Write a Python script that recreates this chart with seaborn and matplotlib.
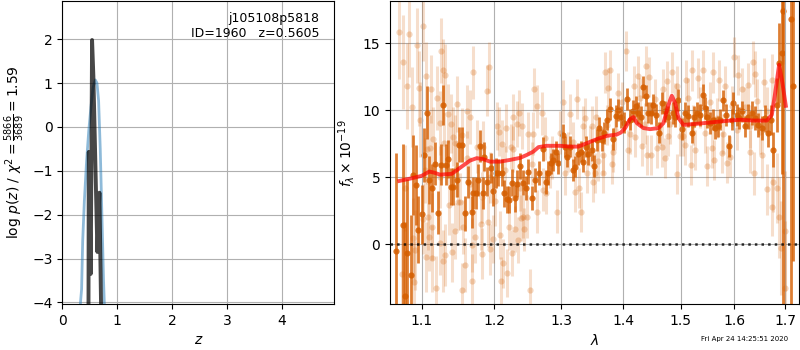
import matplotlib
matplotlib.use('Agg')
import pandas as pd
import seaborn as sns
from matplotlib import pyplot as plt
from matplotlib.ticker import NullLocator, FixedLocator, FixedFormatter

# ---- p(z) panel ----
pz_z = [0.30, 0.33, 0.35, 0.37, 0.40, 0.44, 0.48, 0.52, 0.56, 0.60, 0.63, 0.66, 0.69, 0.72, 0.75, 0.78]
pz_logp = [-4.5, -4.0, -3.7, -2.6, -1.7, -0.8, -0.1, 0.45, 0.9, 1.07, 1.0, 0.6, -0.5, -2.0, -3.5, -4.6]
chi_z = [0.475, 0.481, 0.500, 0.517, 0.541, 0.565, 0.638, 0.675, 0.711]
chi_val = [-4.6, -0.57, -2.0, -3.35, 1.98, 1.15, -2.85, -1.50, -4.6]

# ---- spectrum panel: binned points ----
wave_bin = [1.0666, 1.0752, 1.0782, 1.0812, 1.0856, 1.0890, 1.0925, 1.0955, 1.1000, 1.1034,
            1.1074, 1.1101, 1.1141, 1.1177, 1.1221, 1.1253, 1.1289, 1.1325, 1.1357, 1.1390,
            1.1425, 1.1472, 1.1508, 1.1540, 1.1586, 1.1632, 1.1679, 1.1702, 1.1740, 1.1772,
            1.1796, 1.1834, 1.1853, 1.1900, 1.1948, 1.1986, 1.2025, 1.2058, 1.2108, 1.2146,
            1.2181, 1.2219, 1.2254, 1.2303, 1.2336, 1.2376, 1.2425, 1.2465, 1.2500, 1.2551,
            1.2601, 1.2666, 1.2718, 1.2768, 1.2803, 1.2840, 1.2880, 1.2922, 1.2958, 1.3026,
            1.3062, 1.3098, 1.3141, 1.3184, 1.3220, 1.3272, 1.3310, 1.3352, 1.3395, 1.3432,
            1.3487, 1.3525, 1.3569, 1.3606, 1.3650, 1.3688, 1.3732, 1.3786, 1.3841, 1.3886,
            1.3924, 1.3964, 1.4019, 1.4065, 1.4120, 1.4166, 1.4222, 1.4261, 1.4302, 1.4347,
            1.4394, 1.4434, 1.4480, 1.4520, 1.4567, 1.4625, 1.4667, 1.4725, 1.4783, 1.4861,
            1.4902, 1.4962, 1.5023, 1.5082, 1.5142, 1.5203, 1.5245, 1.5294, 1.5355, 1.5405,
            1.5448, 1.5490, 1.5540, 1.5590, 1.5634, 1.5695, 1.5727, 1.5778, 1.5841, 1.5904,
            1.5949, 1.5980, 1.6045, 1.6089, 1.6141, 1.6205, 1.6270, 1.6336, 1.6401, 1.6466,
            1.6533, 1.6599, 1.6664, 1.6712, 1.6764, 1.6832, 1.6885, 1.6933, 1.6966, 1.7117,
            1.7158]
flux_bin = [-0.5, 1.44, -3.86, -0.67, -2.29, 5.17, 4.43, 1.07, 2.24, 6.66,
            9.82, 4.80, 4.22, 5.99, 2.36, 5.94, 10.37, 5.94, 6.34, 4.30,
            4.30, 4.80, 7.41, 7.41, 2.31, 4.67, 2.43, 3.80, 3.80, 4.80,
            7.34, 3.80, 6.54, 4.67, 5.67, 3.98, 5.30, 5.34, 5.34, 3.80,
            3.36, 3.31, 4.60, 3.43, 4.50, 5.84, 4.60, 4.22, 5.42, 3.43,
            4.80, 5.34, 7.09, 4.67, 5.34, 6.04, 6.29, 6.91, 6.04, 8.16,
            7.28, 6.54, 7.28, 5.54, 5.79, 6.74, 6.91, 6.16, 7.28, 6.74,
            7.04, 5.84, 7.78, 8.66, 7.78, 8.28, 9.28, 10.07, 7.84, 9.57,
            10.02, 9.48, 9.07, 10.82, 9.28, 9.95, 10.27, 9.78, 9.52, 11.72,
            11.07, 9.82, 9.78, 10.40, 9.65, 8.33, 10.52, 9.90, 9.52, 9.78,
            9.52, 10.77, 8.58, 9.78, 9.57, 8.33, 9.52, 9.78, 9.65, 11.14,
            10.15, 9.48, 9.03, 9.28, 8.66, 8.78, 9.28, 10.72, 9.65, 7.34,
            9.28, 10.52, 9.65, 9.40, 9.90, 8.78, 9.52, 9.78, 9.40, 8.90,
            8.66, 9.40, 8.28, 9.28, 7.04, 10.40, 13.50, 14.25, 17.36, 16.80,
            11.76]
err_bin = [7.3, 6.0, 5.5, 5.5, 4.5, 3.0, 3.0, 2.5, 2.2, 2.0,
           2.0, 1.8, 1.8, 1.6, 1.6, 1.5, 1.5, 1.5, 1.4, 1.4,
           1.4, 1.3, 1.3, 1.3, 1.3, 1.2, 1.2, 1.2, 1.2, 1.2,
           1.2, 1.2, 1.1, 1.1, 1.1, 1.1, 1.1, 1.0, 1.0, 1.0,
           1.0, 1.0, 1.0, 1.0, 1.0, 1.0, 0.9, 0.9, 0.9, 0.9,
           0.9, 0.9, 0.9, 0.9, 0.9, 0.8, 0.8, 0.8, 0.8, 0.8,
           0.8, 0.8, 0.8, 0.8, 0.8, 0.8, 0.8, 0.8, 0.8, 0.8,
           0.8, 0.8, 0.8, 0.8, 0.8, 0.8, 0.8, 0.8, 0.8, 0.8,
           0.8, 0.8, 0.8, 0.8, 0.8, 0.8, 0.8, 0.8, 0.8, 0.8,
           0.8, 0.8, 0.8, 0.8, 0.8, 0.8, 0.8, 0.8, 0.8, 0.8,
           0.8, 0.8, 0.8, 0.8, 0.8, 0.8, 0.8, 0.8, 0.8, 0.8,
           0.8, 0.8, 0.8, 0.8, 0.8, 0.8, 0.8, 0.8, 0.8, 0.8,
           0.8, 0.8, 0.8, 0.8, 0.8, 0.8, 0.9, 0.9, 0.9, 0.9,
           0.9, 1.0, 1.0, 1.1, 1.3, 2.0, 3.0, 9.0, 22.0, 22.0,
           13.0]

# ---- spectrum panel: individual pixels ----
wave_pix = [1.0708, 1.0747, 1.0760, 1.0782, 1.0804, 1.0838, 1.0877, 1.0890, 1.0899, 1.0912,
            1.0934, 1.0968, 1.0977, 1.1013, 1.1021, 1.1053, 1.1057, 1.1066, 1.1087, 1.1101,
            1.1110, 1.1119, 1.1133, 1.1141, 1.1154, 1.1186, 1.1200, 1.1244, 1.1240, 1.1254,
            1.1281, 1.1289, 1.1293, 1.1312, 1.1316, 1.1357, 1.1361, 1.1390, 1.1403, 1.1425,
            1.1449, 1.1453, 1.1472, 1.1494, 1.1517, 1.1540, 1.1544, 1.1563, 1.1586, 1.1609,
            1.1618, 1.1655, 1.1679, 1.1683, 1.1702, 1.1726, 1.1750, 1.1806, 1.1820, 1.1843,
            1.1891, 1.1914, 1.1928, 1.1938, 1.1986, 1.2035, 1.2073, 1.2083, 1.2093, 1.2108,
            1.2131, 1.2171, 1.2181, 1.2219, 1.2239, 1.2254, 1.2269, 1.2278, 1.2303, 1.2336,
            1.2351, 1.2366, 1.2386, 1.2401, 1.2425, 1.2436, 1.2485, 1.2500, 1.2525, 1.2566,
            1.2586, 1.2627, 1.2636, 1.2703, 1.2727, 1.2768, 1.2829, 1.2942, 1.3026, 1.3062,
            1.3141, 1.3220, 1.3256, 1.3288, 1.3315, 1.3352, 1.3379, 1.3416, 1.3488, 1.3513,
            1.3541, 1.3557, 1.3666, 1.3676, 1.3704, 1.3758, 1.3786, 1.3814, 1.3841, 1.3924,
            1.4053, 1.4091, 1.4188, 1.4205, 1.4261, 1.4319, 1.4394, 1.4406, 1.4451, 1.4472,
            1.4580, 1.4667, 1.4695, 1.4716, 1.4755, 1.4783, 1.4843, 1.4933, 1.4944, 1.5051,
            1.5082, 1.5100, 1.5185, 1.5203, 1.5263, 1.5324, 1.5416, 1.5479, 1.5572, 1.5602,
            1.5615, 1.5714, 1.5759, 1.5822, 1.5866, 1.5917, 1.5993, 1.6076, 1.6141, 1.6270,
            1.6303, 1.6368, 1.6372, 1.6401, 1.6533, 1.6579, 1.6632, 1.6732, 1.6744, 1.6764,
            1.6845, 1.6885, 1.6919, 1.6953, 1.7001, 1.7005,
            1.1044, 1.1250, 1.1455, 1.1660, 1.1825, 1.1944, 1.2010, 1.2156, 1.2380, 1.2555,
            1.2753, 1.2860, 1.2984, 1.3110, 1.3188, 1.3460, 1.3590, 1.3737, 1.3869, 1.3986,
            1.4120, 1.4290, 1.4376, 1.4550, 1.4637, 1.4813, 1.4902, 1.4992, 1.5136, 1.5227,
            1.5355, 1.5447, 1.5540, 1.5671, 1.5784, 1.5955, 1.6051, 1.6206, 1.6310, 1.6440,
            1.6499, 1.6638]
flux_pix = [15.82, -2.22, 13.58, 4.18, 11.81, 15.67, 10.22, 0.45, -2.79, -0.43,
            14.82, 11.64, 9.28, 1.87, 16.29, -0.93, 12.51, 7.09, 2.06, 0.52,
            7.16, 11.57, -1.04, 1.31, 7.84, -3.28, 10.90, 9.03, 0.12, 14.43,
            -1.25, 13.01, 7.54, 12.63, -0.80, 9.72, 2.93, 8.98, -0.60, 8.03,
            7.54, 1.01, 10.47, 3.18, 3.18, 8.16, -3.41, 1.31, -1.54, 6.42,
            9.90, 9.48, -0.05, -2.72, 12.81, 0.57, 7.28, 1.51, -0.72, 7.28,
            11.46, 1.69, 13.21, -0.37, 0.37, 8.83, 8.40, 0.69, -2.72, 7.49,
            -1.42, 8.66, -2.16, 1.31, 7.28, -0.67, 7.09, 9.48, 1.12, 8.98,
            0.32, 9.78, 1.94, 8.83, 2.06, 1.12, 2.06, 8.23, -3.41, 8.23,
            11.57, 2.43, 10.27, 9.78, 4.05, 3.85, 5.79, 2.43, 10.64, 5.30,
            9.72, 3.93, 10.82, 4.18, 2.43, 8.78, 9.40, 5.34, 8.78, 4.67,
            5.30, 9.52, 6.66, 5.34, 12.81, 11.64, 13.01, 5.99, 6.91, 11.27,
            14.38, 7.04, 11.81, 8.03, 12.56, 7.34, 13.26, 6.66, 12.46, 6.66,
            7.16, 7.28, 11.57, 6.42, 12.19, 8.08, 12.81, 5.25, 11.81, 8.08,
            7.41, 12.21, 5.92, 12.96, 7.04, 12.39, 12.96, 5.84, 7.16, 12.81,
            6.29, 12.21, 6.84, 11.81, 6.09, 6.54, 13.96, 12.63, 11.57, 11.89,
            6.91, 13.55, 5.30, 12.71, 6.66, 12.06, 4.10, 12.21, 2.81, 4.67,
            4.18, 2.01, -0.30, 17.43, 0.99, -3.28,
            5.5, 5.0, 5.6, 4.5, 3.5, 5.0, 3.2, 5.5, 4.2, 6.0,
            7.9, 6.5, 8.3, 6.9, 7.6, 7.3, 6.2, 8.9, 8.5, 10.6,
            8.2, 10.9, 9.0, 10.8, 8.9, 9.0, 10.5, 8.1, 10.9, 8.9,
            10.2, 8.3, 10.6, 9.4, 8.2, 10.3, 8.5, 10.2, 8.8, 10.7,
            8.4, 9.9]
err_pix = [3.5, 3.5, 3.5, 3.2, 3.2, 3.2, 3.0, 3.0, 3.0, 3.0,
           2.8, 2.8, 2.8, 2.6, 2.6, 2.6, 2.6, 2.6, 2.5, 2.5,
           2.5, 2.5, 2.5, 2.5, 2.4, 2.4, 2.4, 2.4, 2.4, 2.4,
           2.3, 2.3, 2.3, 2.3, 2.3, 2.2, 2.2, 2.2, 2.2, 2.2,
           2.1, 2.1, 2.1, 2.1, 2.1, 2.0, 2.0, 2.0, 2.0, 2.0,
           2.0, 2.0, 2.0, 2.0, 2.0, 2.0, 2.0, 1.9, 1.9, 1.9,
           1.9, 1.9, 1.9, 1.9, 1.8, 1.8, 1.8, 1.8, 1.8, 1.8,
           1.8, 1.8, 1.8, 1.7, 1.7, 1.7, 1.7, 1.7, 1.7, 1.7,
           1.7, 1.7, 1.7, 1.7, 1.6, 1.6, 1.6, 1.6, 1.6, 1.6,
           1.6, 1.6, 1.6, 1.6, 1.6, 1.6, 1.6, 1.6, 1.6, 1.6,
           1.5, 1.5, 1.5, 1.5, 1.5, 1.5, 1.5, 1.5, 1.5, 1.5,
           1.5, 1.5, 1.5, 1.5, 1.5, 1.5, 1.5, 1.5, 1.5, 1.5,
           1.5, 1.5, 1.5, 1.5, 1.5, 1.5, 1.5, 1.5, 1.5, 1.5,
           1.5, 1.5, 1.5, 1.5, 1.5, 1.5, 1.5, 1.5, 1.5, 1.5,
           1.5, 1.5, 1.5, 1.5, 1.5, 1.5, 1.5, 1.5, 1.5, 1.5,
           1.5, 1.5, 1.5, 1.5, 1.5, 1.5, 1.5, 1.5, 1.6, 1.6,
           1.6, 1.6, 1.6, 1.7, 1.7, 1.8, 1.9, 2.0, 2.2, 2.3,
           2.6, 3.0, 3.5, 4.0, 4.5, 5.0,
           2.4, 2.3, 2.1, 2.0, 1.9, 1.9, 1.8, 1.8, 1.7, 1.6,
           1.6, 1.6, 1.6, 1.5, 1.5, 1.5, 1.5, 1.5, 1.5, 1.5,
           1.5, 1.5, 1.5, 1.5, 1.5, 1.5, 1.5, 1.5, 1.5, 1.5,
           1.5, 1.5, 1.5, 1.5, 1.5, 1.5, 1.5, 1.5, 1.6, 1.6,
           1.7, 1.8]

# ---- best-fit model ----
model_wave = [1.0708, 1.0869, 1.1000, 1.1101, 1.1164, 1.1244, 1.1403, 1.1540, 1.1655, 1.1750,
              1.1843, 1.1938, 1.2083, 1.2229, 1.2376, 1.2476, 1.2575, 1.2651, 1.2778, 1.2984,
              1.3141, 1.3272, 1.3407, 1.3569, 1.3732, 1.3897, 1.3964, 1.4036, 1.4120, 1.4176,
              1.4234, 1.4347, 1.4463, 1.4607, 1.4695, 1.4783, 1.4843, 1.4902, 1.4962, 1.5051,
              1.5294, 1.5602, 1.5917, 1.6108, 1.6368, 1.6632, 1.6732, 1.6799, 1.6879, 1.6946,
              1.7015]
model_flux = [4.72, 4.92, 5.10, 5.42, 5.34, 5.19, 5.25, 5.79, 6.24, 6.42,
              6.34, 6.16, 6.16, 6.29, 6.44, 6.66, 6.91, 7.24, 7.34, 7.34,
              7.28, 7.28, 7.54, 7.84, 8.08, 8.18, 8.33, 8.66, 9.33, 9.48,
              9.03, 8.66, 8.58, 8.66, 9.03, 10.40, 11.07, 10.52, 9.40, 8.90,
              8.98, 9.10, 9.22, 9.28, 9.22, 9.22, 9.65, 11.27, 13.38, 12.01,
              10.32]

grism_color = '#d55e00'

df_bin = pd.DataFrame({'wave': wave_bin, 'flux': flux_bin, 'err': err_bin})
df_pix = pd.DataFrame({'wave': wave_pix, 'flux': flux_pix, 'err': err_pix})
df_model = pd.DataFrame({'wave': model_wave, 'flux': model_flux})

fig = plt.figure(figsize=(8, 3.5), dpi=100)
ax1 = fig.add_axes([0.078, 0.131, 0.340, 0.865])
ax2 = fig.add_axes([0.4875, 0.131, 0.5115, 0.865])

# p(z)
sns.lineplot(x=pz_z, y=pz_logp, ax=ax1, color='#1f77b4', alpha=0.5, lw=2,
             estimator=None, sort=False)
sns.lineplot(x=chi_z, y=chi_val, ax=ax1, color='k', alpha=0.72, lw=2.8,
             estimator=None, sort=False)
ax1.set_xlim(0, 4.96)
ax1.set_ylim(-4.04, 2.86)
ax1.set_xticks([0, 1, 2, 3, 4])
ax1.set_yticks([-4, -3, -2, -1, 0, 1, 2])
ax1.grid(True)
ax1.set_xlabel('$z$')
ax1.set_ylabel(r'$\log\,p(z)$' + ' / ' + r'$\chi^2=\frac{5866}{3689}=1.59$')
ax1.text(0.945, 0.965, 'j105108p5818\nID=1960   z=0.5605', transform=ax1.transAxes,
         ha='right', va='top', fontsize=9)

# spectrum
ax2.set_xscale('log')
ax2.errorbar(df_pix['wave'], df_pix['flux'], yerr=df_pix['err'], fmt='none',
             ecolor=grism_color, alpha=0.2, elinewidth=2.2)
sns.scatterplot(data=df_pix, x='wave', y='flux', ax=ax2, color=grism_color,
                alpha=0.25, s=20, linewidth=0)
ax2.errorbar(df_bin['wave'], df_bin['flux'], yerr=df_bin['err'], fmt='none',
             ecolor=grism_color, alpha=0.8, elinewidth=2.0)
sns.scatterplot(data=df_bin, x='wave', y='flux', ax=ax2, color=grism_color,
                alpha=0.85, s=20, linewidth=0)
sns.lineplot(data=df_model, x='wave', y='flux', ax=ax2, color='red', alpha=0.7,
             lw=2.8, estimator=None, sort=False)
ax2.axhline(0, color='k', ls=':', lw=1.8, alpha=0.8)

ax2.set_xlim(1.059, 1.729)
ax2.set_ylim(-4.46, 18.1)
ax2.xaxis.set_major_locator(FixedLocator([1.1, 1.2, 1.3, 1.4, 1.5, 1.6, 1.7]))
ax2.xaxis.set_major_formatter(FixedFormatter(['1.1', '1.2', '1.3', '1.4', '1.5', '1.6', '1.7']))
ax2.xaxis.set_minor_locator(NullLocator())
ax2.set_yticks([0, 5, 10, 15])
ax2.grid(True)
ax2.set_xlabel(r'$\lambda$')
ax2.set_ylabel(r'$f_\lambda\times10^{-19}$')

fig.text(0.985, 0.031, 'Fri Apr 24 14:25:51 2020', ha='right', va='center', fontsize=5)

fig.savefig('out.png', dpi=100)
